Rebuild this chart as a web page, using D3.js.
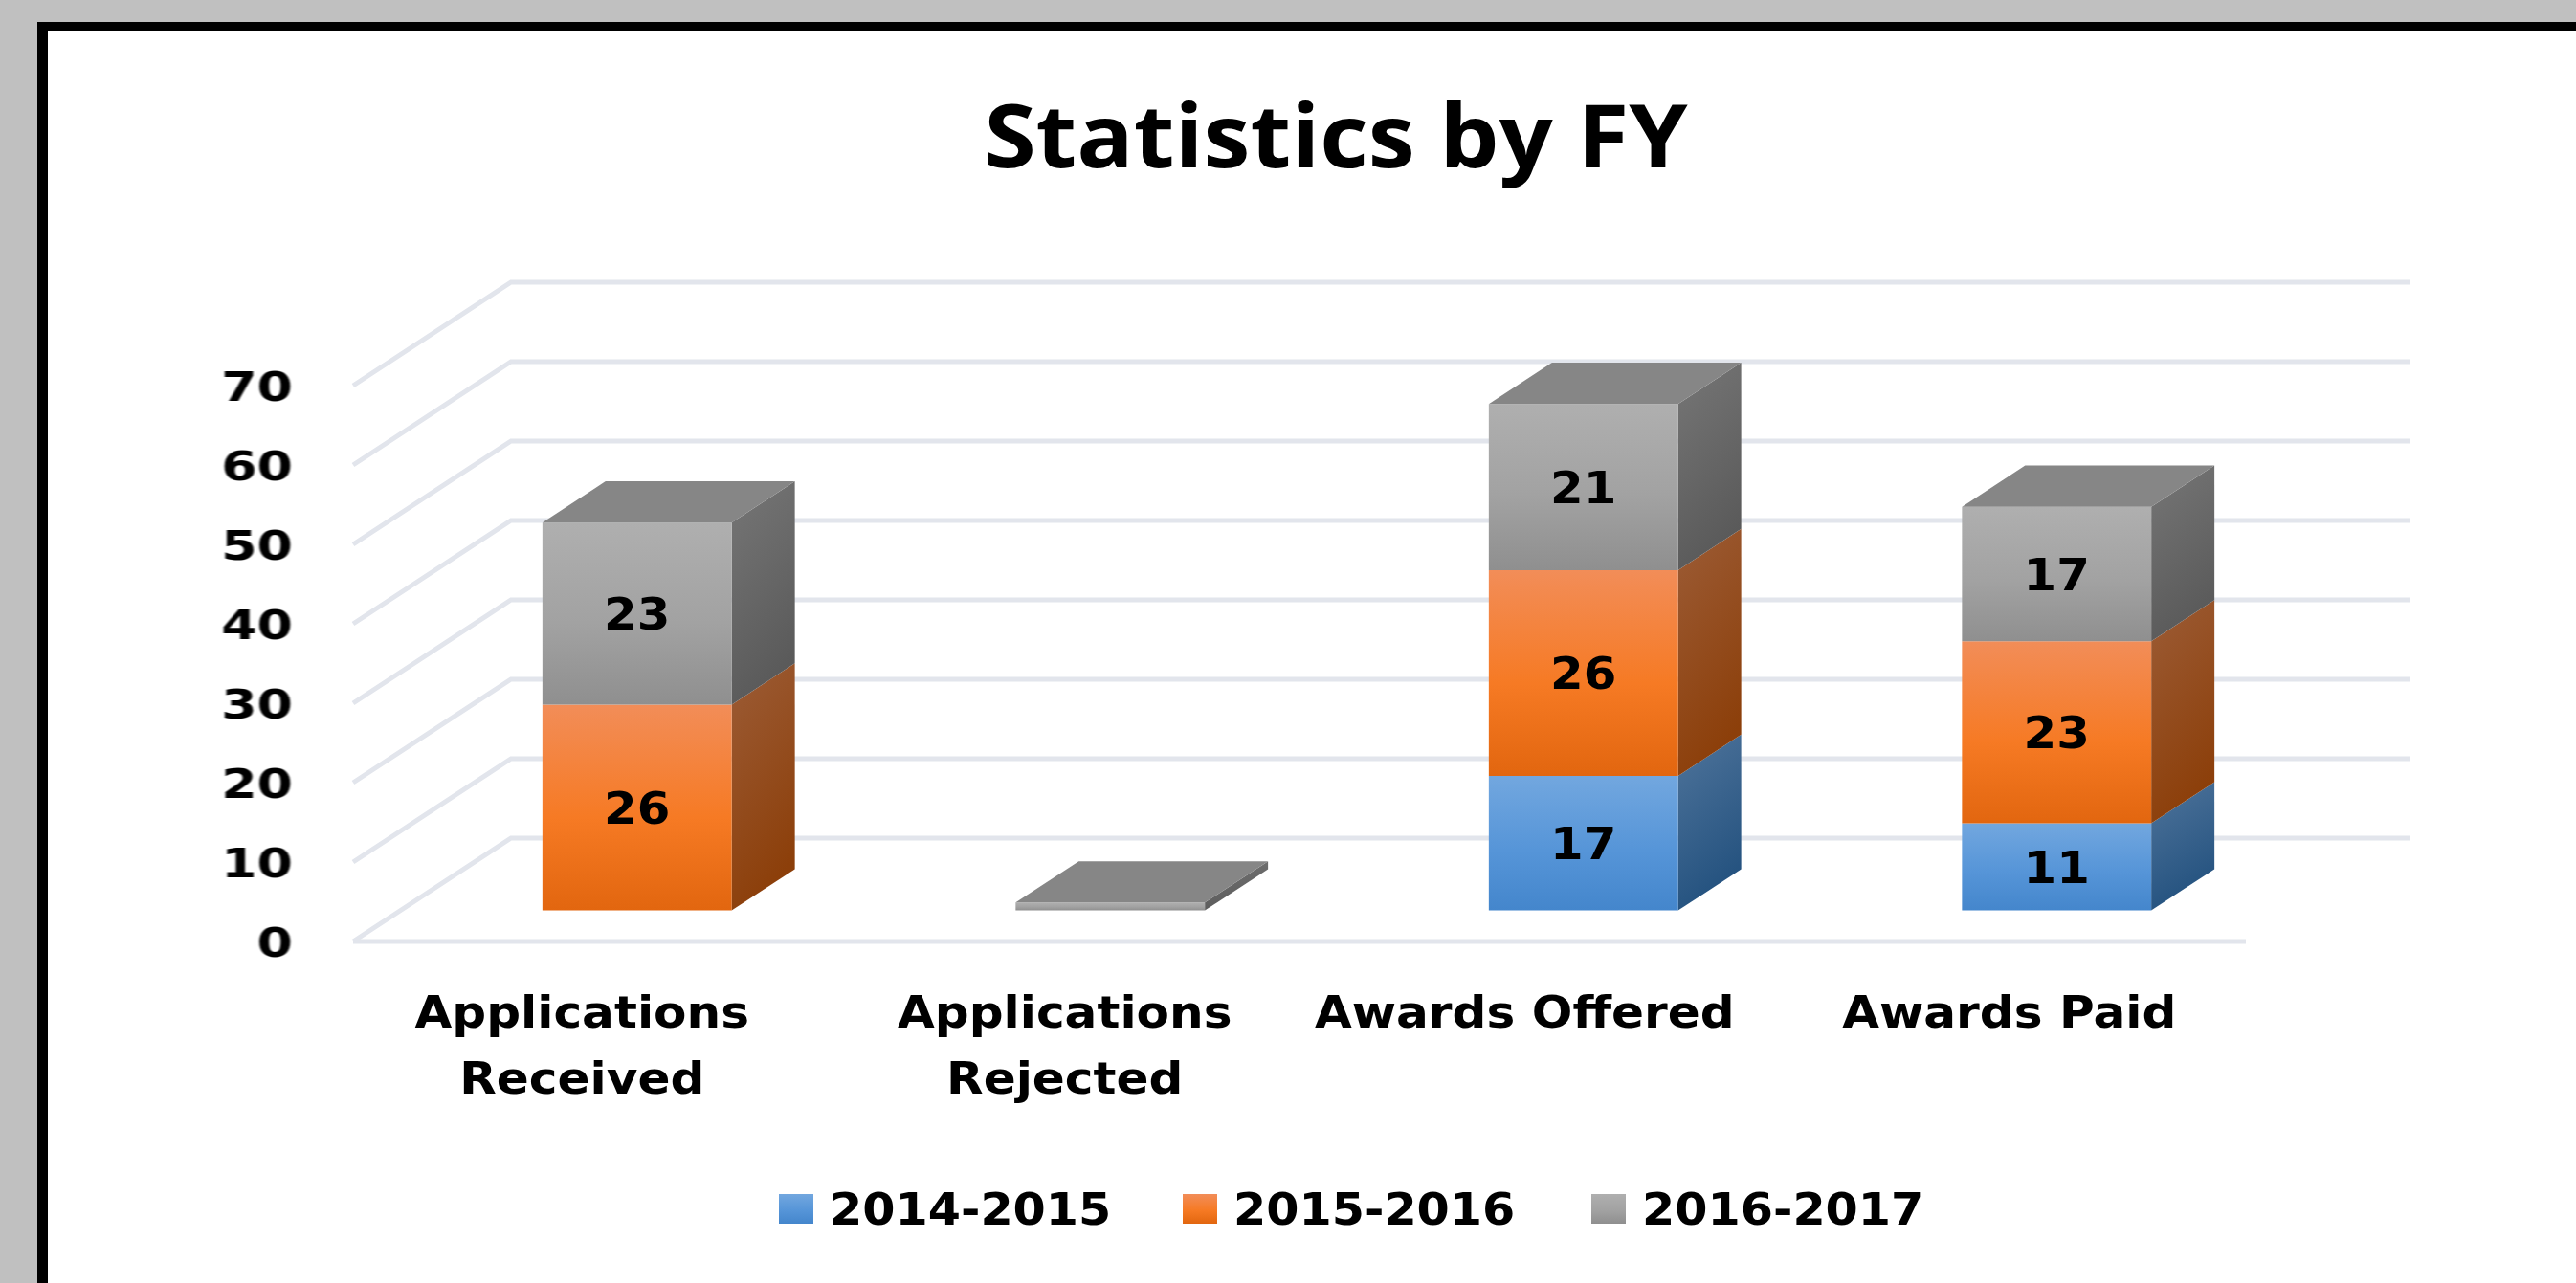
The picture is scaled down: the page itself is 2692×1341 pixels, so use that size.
<!DOCTYPE html>
<html lang="en">
  <head>
    <meta charset="utf-8" />
    <title>Statistics by FY</title>
    <script src="https://d3js.org/d3.v7.min.js"></script>
    <style type="text/css">
      html, body { margin: 0; padding: 0; background: #c0c0c0; }
      svg { display: block; }
      text { font-family: "DejaVu Sans", sans-serif; font-weight: bold; fill: #000; filter: blur(0.7px); }
      .title { font-family: "Open Sans", sans-serif; }
      .grid, .bars { filter: blur(0.7px); }
    </style>
  </head>
  <body>
    <script type="text/javascript">
      const w = 2692;
      const h = 1341;

      // Data
      const categories = ["Applications Received", "Applications Rejected", "Awards Offered", "Awards Paid"];
      const categoryLines = [["Applications", "Received"], ["Applications", "Rejected"], ["Awards Offered"], ["Awards Paid"]];
      const seriesNames = ["2014-2015", "2015-2016", "2016-2017"];
      const values2014 = [0, 0, 17, 11];
      const values2015 = [26, 0, 26, 23];
      const values2016 = [23, 1, 21, 17];
      const yTicks = [0, 10, 20, 30, 40, 50, 60, 70];

      // Face colours per series: front top/mid/bottom, side top/bottom
      const frontColors = [
        ["#72a7df", "#5695d8", "#4486cc"],
        ["#f28d58", "#f67a24", "#e2660f"],
        ["#afafaf", "#a2a2a2", "#8f8f8f"]
      ];
      const sideColors = [
        ["#4f749b", "#24527f"],
        ["#9c5c36", "#8c3f0a"],
        ["#767676", "#5a5a5a"]
      ];
      const topColor = "#868686";

      // Scales. depth runs 0 (front of floor) to 1 (back wall)
      const x = d3.scaleBand().domain(categories).range([369, 2347]).paddingInner(0.6).paddingOuter(0.3);
      const y = d3.scaleLinear().domain([0, 70]).range([984, 403]);
      const barY = d3.scaleLinear().domain([0, 70]).range([984, 405]);
      const depthX = d3.scaleLinear().domain([0, 1]).range([0, 165]);
      const depthY = d3.scaleLinear().domain([0, 1]).range([0, -108]);
      const barFront = 0.3;
      const barBack = 0.7;
      const wallOverhang = 7;

      const project = (px, v, t, scale = y) => [px + depthX(t), scale(v) + depthY(t)];
      const line = d3.line();

      const svg = d3.select("body").append("svg").attr("width", w).attr("height", h);

      // Gradients
      const defs = svg.append("defs");
      frontColors.forEach((c, i) => {
        const g = defs.append("linearGradient").attr("id", "front" + i).attr("x1", 0).attr("y1", 0).attr("x2", 0).attr("y2", 1);
        g.append("stop").attr("offset", "0%").attr("stop-color", c[0]);
        g.append("stop").attr("offset", "55%").attr("stop-color", c[1]);
        g.append("stop").attr("offset", "100%").attr("stop-color", c[2]);
      });
      sideColors.forEach((c, i) => {
        const g = defs.append("linearGradient").attr("id", "side" + i).attr("x1", 0).attr("y1", 0).attr("x2", 0.3).attr("y2", 1);
        g.append("stop").attr("offset", "0%").attr("stop-color", c[0]);
        g.append("stop").attr("offset", "100%").attr("stop-color", c[1]);
      });

      // Panel with black frame, open on the right and bottom
      svg.append("rect").attr("x", 39).attr("y", 23).attr("width", w - 39).attr("height", h - 23).attr("fill", "#000");
      svg.append("rect").attr("x", 50).attr("y", 32).attr("width", w - 50).attr("height", h - 32).attr("fill", "#fff");

      // Title
      svg.append("text")
        .attr("class", "title")
        .attr("transform", "translate(1396,175) scale(1.07,1)")
        .attr("text-anchor", "middle")
        .attr("font-size", 92)
        .text("Statistics by FY");

      // Grid: side wall, back wall, floor front edge
      const grid = svg.append("g")
        .attr("class", "grid")
        .attr("fill", "none")
        .attr("stroke", "#e2e5ec")
        .attr("stroke-width", 5);
      grid.selectAll("path.wall")
        .data(yTicks)
        .enter()
        .append("path")
        .attr("class", "wall")
        .attr("d", (d) => line([project(x.range()[0], d, 0), project(x.range()[0], d, 1), project(x.range()[1] + wallOverhang, d, 1)]));
      grid.append("path").attr("d", line([project(x.range()[0], 0, 0), project(x.range()[1], 0, 0)]));

      // Y axis labels
      const yAxis = svg.append("g")
        .attr("transform", "translate(306,0)")
        .call(d3.axisLeft(y).tickValues(yTicks).tickSize(0));
      yAxis.select(".domain").remove();
      yAxis.selectAll("text")
        .attr("x", 0)
        .attr("dy", "0.36em")
        .attr("font-size", 43)
        .attr("font-family", null)
        .attr("transform", "scale(1.25,1)");

      // Stacked bars
      const stacked = d3.stack().keys([0, 1, 2]).value((d, k) => d[k])(
        categories.map((c, i) => [values2014[i], values2015[i], values2016[i]])
      );

      const bars = svg.append("g").attr("class", "bars");
      const labels = svg.append("g");
      stacked.forEach((layer, s) => {
        layer.forEach((seg, i) => {
          if (seg[1] === seg[0]) return;
          const left = x(categories[i]);
          const right = left + x.bandwidth();
          const g = bars.append("g");

          g.append("path")
            .attr("fill", `url(#side${s})`)
            .attr("d", line([
              project(right, seg[1], barFront, barY),
              project(right, seg[1], barBack, barY),
              project(right, seg[0], barBack, barY),
              project(right, seg[0], barFront, barY)
            ]) + "Z");

          g.append("path")
            .attr("fill", `url(#front${s})`)
            .attr("d", line([
              project(left, seg[1], barFront, barY),
              project(right, seg[1], barFront, barY),
              project(right, seg[0], barFront, barY),
              project(left, seg[0], barFront, barY)
            ]) + "Z");

          const total = values2014[i] + values2015[i] + values2016[i];
          if (seg[1] === total) {
            g.append("path")
              .attr("fill", topColor)
              .attr("d", line([
                project(left, seg[1], barFront, barY),
                project(left, seg[1], barBack, barY),
                project(right, seg[1], barBack, barY),
                project(right, seg[1], barFront, barY)
              ]) + "Z");
          }

          // Value labels, skipped for the sliver that has no room
          if (seg[1] - seg[0] > 2) {
            const c = project((left + right) / 2, (seg[0] + seg[1]) / 2, barFront, barY);
            labels.append("text")
              .attr("transform", `translate(${c[0]},${c[1]}) scale(1.06,1)`)
              .attr("text-anchor", "middle")
              .attr("dy", "0.36em")
              .attr("font-size", 47)
              .text(seg[1] - seg[0]);
          }
        });
      });

      // Category labels
      const labelNudge = [-8, 2, -12, 0];
      const catLabels = svg.selectAll("g.cat")
        .data(categories)
        .enter()
        .append("g")
        .attr("class", "cat")
        .attr("transform", (d, i) => `translate(${x(d) + x.bandwidth() / 2 + labelNudge[i]},0)`);
      catLabels.each(function (d, i) {
        d3.select(this)
          .selectAll("text")
          .data(categoryLines[i])
          .enter()
          .append("text")
          .attr("transform", (t, j) => `translate(0,${1074 + j * 69}) scale(1.09,1)`)
          .attr("text-anchor", "middle")
          .attr("font-size", 46)
          .text((t) => t);
      });

      // Legend
      const legendX = [814, 1236, 1663];
      const legend = svg.selectAll("g.legend")
        .data(seriesNames)
        .enter()
        .append("g")
        .attr("class", "legend")
        .attr("transform", (d, i) => `translate(${legendX[i]},1248)`);
      legend.append("rect")
        .attr("width", 36)
        .attr("height", 31)
        .attr("fill", (d, i) => `url(#front${i})`);
      legend.append("text")
        .attr("transform", "translate(53,32) scale(1.07,1)")
        .attr("font-size", 46)
        .text((d) => d);
    </script>
  </body>
</html>
